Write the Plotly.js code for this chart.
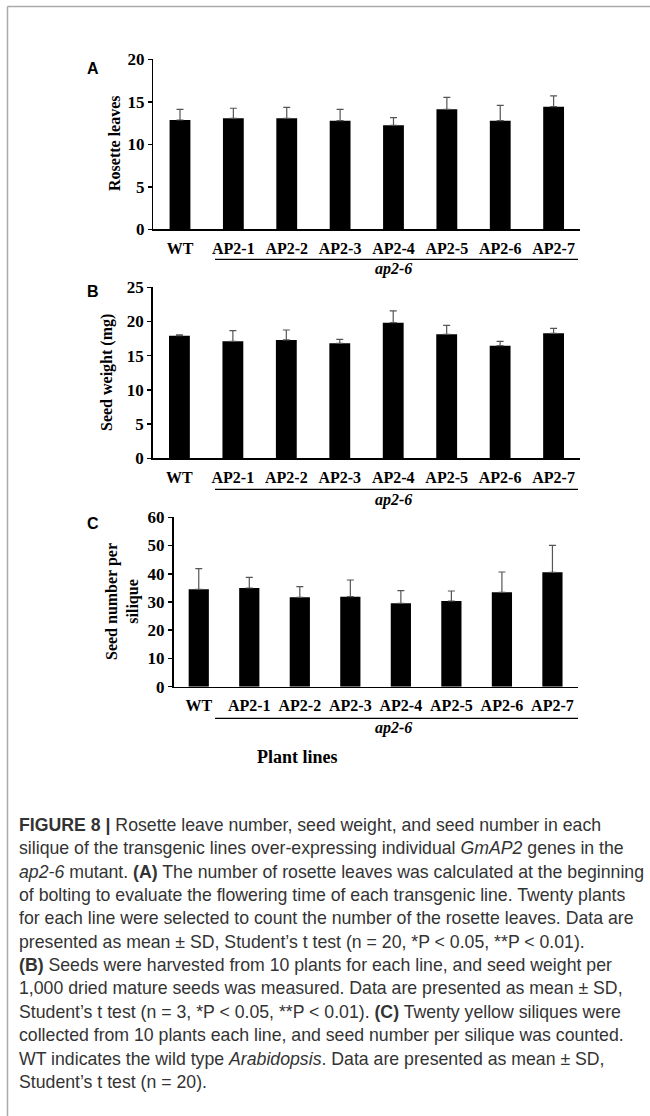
<!DOCTYPE html>
<html>
<head>
<meta charset="utf-8">
<script src="https://cdn.plot.ly/plotly-3.0.1.min.js"></script>
<style>html,body{margin:0;padding:0;background:#fff;}#chart{width:650px;height:1116px;}</style>
</head>
<body>
<div id="chart"></div>
<script>
// ---- data ----
const lines = ["WT", "AP2-1", "AP2-2", "AP2-3", "AP2-4", "AP2-5", "AP2-6", "AP2-7"];
const rosetteMean = [12.86, 13.06, 13.06, 12.78, 12.24, 14.12, 12.78, 14.43];
const rosetteSD   = [1.26, 1.18, 1.29, 1.34, 0.90, 1.41, 1.80, 1.26];
const seedWeightMean = [17.93, 17.10, 17.30, 16.81, 19.83, 18.13, 16.47, 18.27];
const seedWeightSD   = [0.10, 1.56, 1.46, 0.59, 1.71, 1.31, 0.63, 0.73];
const seedNumberMean = [34.5, 34.96, 31.65, 31.89, 29.53, 30.35, 33.42, 40.51];
const seedNumberSD   = [7.3, 3.78, 3.78, 5.91, 4.47, 3.55, 7.21, 9.57];
const groupLabel = "ap2-6";
const panelLetters = ["A", "B", "C"];
const yTitles = ["Rosette leaves", "Seed weight (mg)", "Seed number per<br>silique"];
const xTitle = "Plant lines";
const captionLines = [
  "<b>FIGURE 8 |</b> Rosette leave number, seed weight, and seed number in each",
  "silique of the transgenic lines over-expressing individual <i>GmAP2</i> genes in the",
  "<i>ap2-6</i> mutant. <b>(A)</b> The number of rosette leaves was calculated at the beginning",
  "of bolting to evaluate the flowering time of each transgenic line. Twenty plants",
  "for each line were selected to count the number of the rosette leaves. Data are",
  "presented as mean ± SD, Student’s t test (n = 20, *P &lt; 0.05, **P &lt; 0.01).",
  "<b>(B)</b> Seeds were harvested from 10 plants for each line, and seed weight per",
  "1,000 dried mature seeds was measured. Data are presented as mean ± SD,",
  "Student’s t test (n = 3, *P &lt; 0.05, **P &lt; 0.01). <b>(C)</b> Twenty yellow siliques were",
  "collected from 10 plants each line, and seed number per silique was counted.",
  "WT indicates the wild type <i>Arabidopsis</i>. Data are presented as mean ± SD,",
  "Student’s t test (n = 20)."
];

// ---- layout helpers (pixel -> paper) ----
const W = 650, H = 1116;
const px = x => x / W;
const py = y => 1 - y / H;
const serif = "Liberation Serif, Times New Roman, serif";
const sans = "Liberation Sans, Arial, sans-serif";

function barTrace(means, sds, xa, ya, bw) {
  return {
    type: "bar", x: lines, y: means, xaxis: xa, yaxis: ya, width: bw,
    marker: {color: "#000", line: {width: 0}},
    error_y: {type: "data", symmetric: false, array: sds, arrayminus: sds.map(() => 0),
              color: "#555", thickness: 1.2, width: 3.5},
    hoverinfo: "skip", showlegend: false
  };
}

const data = [
  barTrace(rosetteMean, rosetteSD, "x", "y", 0.39),
  barTrace(seedWeightMean, seedWeightSD, "x2", "y2", 0.39),
  barTrace(seedNumberMean, seedNumberSD, "x3", "y3", 0.40)
];

function xAxis(x0, x1, anchor) {
  return {domain: [px(x0), px(x1)], anchor: anchor, range: [-0.5, 7.5], type: "category",
          showline: true, linecolor: "#000", linewidth: 1.5, ticks: "", showgrid: false,
          zeroline: false, fixedrange: true, ticklabelstandoff: 4,
          tickfont: {family: serif, size: 16, color: "#000", weight: "bold"}};
}
function yAxis(yBottom, yTop, maxv, dt, anchor) {
  return {domain: [py(yBottom), py(yTop)], anchor: anchor, range: [0, maxv], dtick: dt,
          tick0: 0, showline: true, linecolor: "#000", linewidth: 1.5, ticks: "outside",
          ticklen: 4, tickwidth: 1.5, tickcolor: "#000", showgrid: false, zeroline: false,
          fixedrange: true, ticklabelstandoff: 0,
          tickfont: {family: serif, size: 17, color: "#000", weight: "bold"}};
}

const panels = [
  {x0: 153.3, x1: 580.3, yb: 229.3, yt: 59.3, under: 259.3, grp: 269, letterY: 68},
  {x0: 152.7, x1: 580.3, yb: 458.3, yt: 287.3, under: 489.3, grp: 500, letterY: 291},
  {x0: 173.5, x1: 577.7, yb: 686.7, yt: 517.3, under: 718.3, grp: 728, letterY: 523}
];

const layout = {
  width: W, height: H, margin: {l: 0, r: 0, t: 0, b: 0},
  paper_bgcolor: "#fff", plot_bgcolor: "rgba(0,0,0,0)",
  xaxis: xAxis(panels[0].x0, panels[0].x1, "y"),
  yaxis: yAxis(panels[0].yb, panels[0].yt, 20, 5, "x"),
  xaxis2: xAxis(panels[1].x0, panels[1].x1, "y2"),
  yaxis2: yAxis(panels[1].yb, panels[1].yt, 25, 5, "x2"),
  xaxis3: xAxis(panels[2].x0, panels[2].x1, "y3"),
  yaxis3: yAxis(panels[2].yb, panels[2].yt, 60, 10, "x3"),
  shapes: [], annotations: []
};

// frame lines
layout.shapes.push({type: "line", xref: "paper", yref: "paper", x0: px(7.5), x1: 1, y0: py(6.5), y1: py(6.5),
                    line: {color: "#aaa", width: 1.5}});
layout.shapes.push({type: "line", xref: "paper", yref: "paper", x0: px(7.5), x1: px(7.5), y0: py(6.5), y1: 0,
                    line: {color: "#aaa", width: 1.5}});

const yTitleX = [115, 107, 122];
const yTitleY = [143, 373, 602];
panels.forEach((p, i) => {
  layout.shapes.push({type: "line", xref: "paper", yref: "paper", x0: px(215), x1: px(578),
                      y0: py(p.under), y1: py(p.under), line: {color: "#000", width: 1.3}});
  layout.annotations.push({xref: "paper", yref: "paper", x: px(393), y: py(p.grp), text: "<i>" + groupLabel + "</i>",
                           showarrow: false, xanchor: "center", yanchor: "middle",
                           font: {family: serif, size: 16, color: "#000", weight: "bold"}});
  layout.annotations.push({xref: "paper", yref: "paper", x: px(93), y: py(p.letterY), text: panelLetters[i],
                           showarrow: false, xanchor: "center", yanchor: "middle",
                           font: {family: sans, size: 16, color: "#000", weight: "bold"}});
  layout.annotations.push({xref: "paper", yref: "paper", x: px(yTitleX[i]), y: py(yTitleY[i]), text: yTitles[i],
                           showarrow: false, xanchor: "center", yanchor: "middle", textangle: -90,
                           font: {family: serif, size: 16, color: "#000", weight: "bold"}});
});

layout.annotations.push({xref: "paper", yref: "paper", x: px(297), y: py(757), text: xTitle,
                         showarrow: false, xanchor: "center", yanchor: "middle",
                         font: {family: serif, size: 18, color: "#000", weight: "bold"}});

captionLines.forEach((t, i) => {
  layout.annotations.push({xref: "paper", yref: "paper", x: px(17), y: py(825 + i * 23.35), text: t,
                           showarrow: false, xanchor: "left", yanchor: "middle", align: "left",
                           font: {family: sans, size: 17.7, color: "#333"}});
});

Plotly.newPlot("chart", data, layout, {staticPlot: true, displayModeBar: false});
</script>
</body>
</html>
